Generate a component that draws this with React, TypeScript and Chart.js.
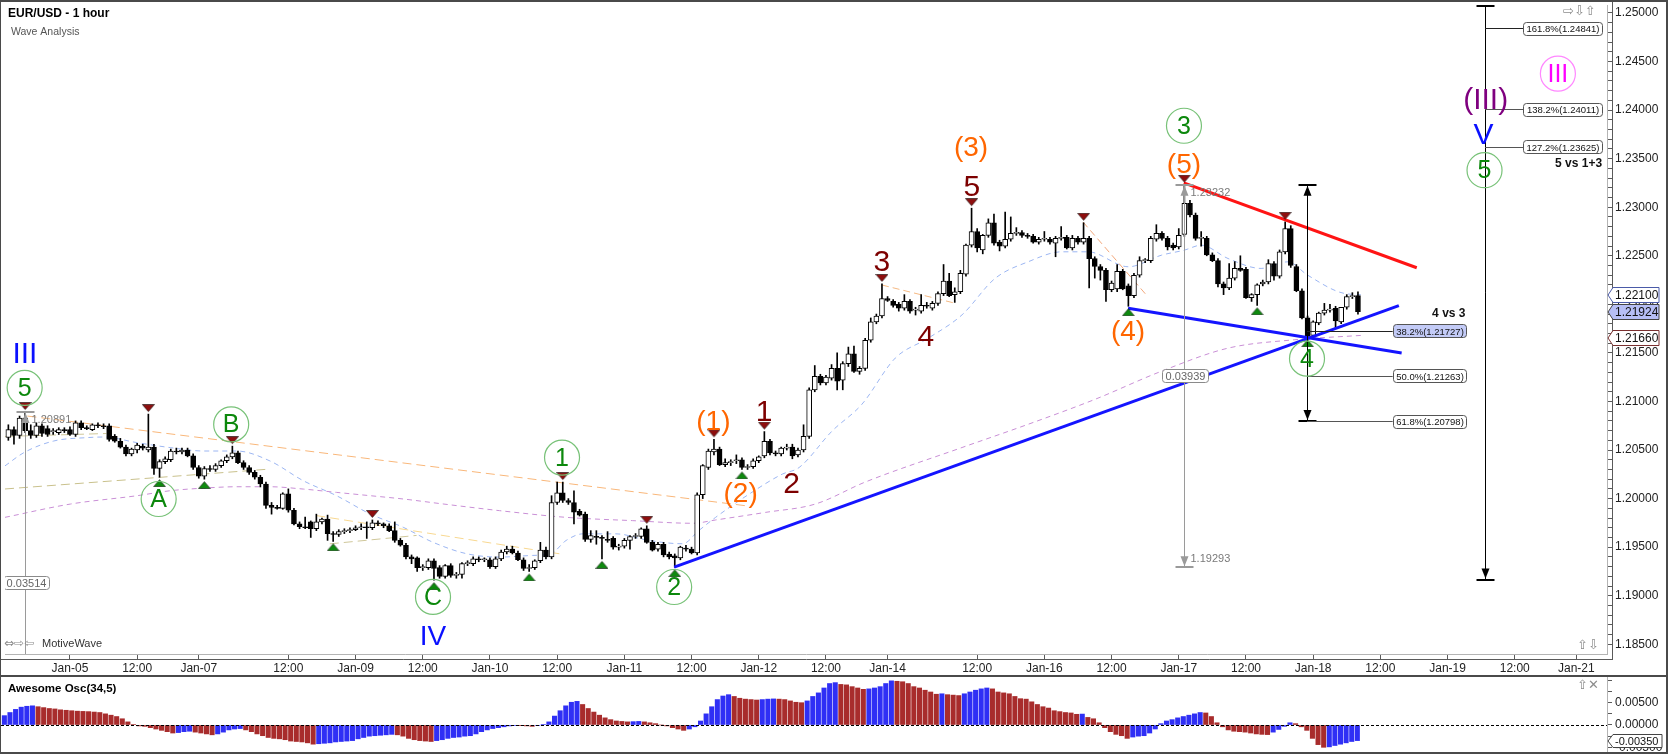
import React, { useEffect, useRef } from "react";
import { Chart, registerables } from "chart.js";

Chart.register(...registerables);

const FONT = "'Liberation Sans', Arial, Helvetica, sans-serif";
const SYMBOL_FONT = "'DejaVu Sans', sans-serif";

// ---- time axis: one slot per hourly candle, slot 0 = Jan-05 00:00 (weekends compressed)
const FIRST_SLOT = -11;
const X_MIN = -11.6;
const X_MAX = 274.47;
const xTickSlots = [0, 12, 23, 39, 51, 63, 75, 87, 99, 111, 123, 135, 146, 162, 174, 186, 198, 210, 222, 234, 246, 258, 269];
const xTickLabels = ["Jan-05", "12:00", "Jan-07", "12:00", "Jan-09", "12:00", "Jan-10", "12:00", "Jan-11", "12:00", "Jan-12", "12:00", "Jan-14", "12:00", "Jan-16", "12:00", "Jan-17", "12:00", "Jan-18", "12:00", "Jan-19", "12:00", "Jan-21"];

// ---- price axis
const PRICE_MIN = 1.184;
const PRICE_MAX = 1.25082;
const PRICE_TICK_FIRST = 1.185;
const PRICE_TICK_LAST = 1.25;
const PRICE_MINOR_STEP = 0.001;
const PRICE_LABEL_STEP = 0.005;

// ---- Awesome oscillator axis
const AO_MIN = -0.006054;
const AO_MAX = 0.010762;
const aoTickValues = [-0.005, -0.0025, 0, 0.0025, 0.005, 0.0075, 0.01];
const aoLabelTicks = [-0.005, 0, 0.005];

// ---- EUR/USD hourly candles, slots -11 .. 230
const opens = [
  1.2063, 1.2071, 1.2065, 1.2083, 1.2070, 1.2065, 1.2075, 1.2072, 1.2069, 1.2068,
  1.2071, 1.2071, 1.2066, 1.2078, 1.2073, 1.2071, 1.2076, 1.2075, 1.2075, 1.2064,
  1.2059, 1.2053, 1.2046, 1.2050, 1.2054, 1.2050, 1.2053, 1.2031, 1.2038, 1.2040,
  1.2049, 1.2048, 1.2050, 1.2044, 1.2032, 1.2023, 1.2031, 1.2030, 1.2034, 1.2039,
  1.2043, 1.2047, 1.2037, 1.2032, 1.2027, 1.2022, 1.2015, 1.1993, 1.1991, 1.1990,
  1.2005, 1.1988, 1.1974, 1.1971, 1.1976, 1.1969, 1.1976, 1.1979, 1.1964, 1.1963,
  1.1966, 1.1967, 1.1968, 1.1970, 1.1971, 1.1970, 1.1975, 1.1974, 1.1972, 1.1967,
  1.1957, 1.1952, 1.1940, 1.1939, 1.1929, 1.1929, 1.1936, 1.1929, 1.1920, 1.1931,
  1.1921, 1.1922, 1.1933, 1.1933, 1.1938, 1.1937, 1.1937, 1.1930, 1.1938, 1.1945,
  1.1948, 1.1944, 1.1937, 1.1928, 1.1929, 1.1936, 1.1947, 1.1940, 1.1996, 1.2006,
  1.1998, 1.1996, 1.1987, 1.1984, 1.1958, 1.1961, 1.1960, 1.1958, 1.1959, 1.1950,
  1.1951, 1.1957, 1.1961, 1.1961, 1.1969, 1.1955, 1.1948, 1.1953, 1.1943, 1.1941,
  1.1939, 1.1949, 1.1948, 1.1944, 1.2004, 1.2032, 1.2048, 1.2051, 1.2035, 1.2037,
  1.2039, 1.2040, 1.2032, 1.2033, 1.2039, 1.2044, 1.2059, 1.2047, 1.2046, 1.2052,
  1.2053, 1.2045, 1.2050, 1.2064, 1.2112, 1.2126, 1.2119, 1.2124, 1.2134, 1.2122,
  1.2139, 1.2149, 1.2131, 1.2134, 1.2163, 1.2182, 1.2188, 1.2206, 1.2203, 1.2200,
  1.2196, 1.2203, 1.2194, 1.2193, 1.2199, 1.2196, 1.2201, 1.2211, 1.2224, 1.2210,
  1.2213, 1.2231, 1.2261, 1.2275, 1.2256, 1.2271, 1.2284, 1.2264, 1.2260, 1.2267,
  1.2273, 1.2274, 1.2271, 1.2270, 1.2264, 1.2267, 1.2267, 1.2263, 1.2268, 1.2269,
  1.2258, 1.2268, 1.2264, 1.2268, 1.2247, 1.2239, 1.2235, 1.2215, 1.2216, 1.2234,
  1.2219, 1.2209, 1.2230, 1.2245, 1.2245, 1.2267, 1.2273, 1.2268, 1.2261, 1.2259,
  1.2272, 1.2304, 1.2292, 1.2268, 1.2268, 1.2251, 1.2245, 1.2221, 1.2217, 1.2227,
  1.2237, 1.2236, 1.2207, 1.2210, 1.2221, 1.2223, 1.2242, 1.2229, 1.2254, 1.2278,
  1.2239, 1.2214, 1.2186, 1.2168, 1.2181, 1.2191, 1.2194, 1.2196, 1.2182, 1.2197,
  1.2208, 1.2209,
];
const highs = [
  1.2076, 1.2074, 1.2085, 1.20891, 1.2076, 1.2078, 1.2077, 1.2075, 1.2072, 1.2073,
  1.2073, 1.2074, 1.2080, 1.2080, 1.2075, 1.2077, 1.2078, 1.2077, 1.2077, 1.2066,
  1.2062, 1.2055, 1.2052, 1.2057, 1.2056, 1.2087, 1.2056, 1.2040, 1.2043, 1.2051,
  1.2052, 1.2052, 1.2052, 1.2046, 1.2034, 1.2033, 1.2034, 1.2036, 1.2040, 1.2045,
  1.2054, 1.2049, 1.2039, 1.2034, 1.2029, 1.2024, 1.2017, 1.1996, 1.1993, 1.2006,
  1.2010, 1.1990, 1.1976, 1.1981, 1.1977, 1.1984, 1.1980, 1.1983, 1.1966, 1.1968,
  1.1969, 1.1970, 1.1972, 1.1974, 1.1976, 1.1978, 1.1977, 1.1975, 1.1974, 1.1976,
  1.1959, 1.1954, 1.1942, 1.1940, 1.1932, 1.1938, 1.1938, 1.1931, 1.1932, 1.1933,
  1.1924, 1.1934, 1.1936, 1.1940, 1.1940, 1.1939, 1.1939, 1.1940, 1.1947, 1.1951,
  1.1951, 1.1946, 1.1939, 1.1932, 1.1937, 1.1955, 1.1950, 1.2003, 1.2017, 1.2017,
  1.2000, 1.2008, 1.1989, 1.1986, 1.1967, 1.1967, 1.1962, 1.1966, 1.1961, 1.1953,
  1.1959, 1.1962, 1.1964, 1.1970, 1.1972, 1.1957, 1.1955, 1.1955, 1.1945, 1.1943,
  1.1951, 1.1952, 1.1950, 1.2006, 1.2035, 1.2051, 1.2061, 1.2053, 1.2041, 1.2040,
  1.2045, 1.2042, 1.2035, 1.2041, 1.2044, 1.2069, 1.2061, 1.2049, 1.2053, 1.2056,
  1.2056, 1.2052, 1.2076, 1.2114, 1.2137, 1.2128, 1.2127, 1.2138, 1.2150, 1.2141,
  1.2156, 1.2157, 1.2136, 1.2165, 1.2186, 1.2190, 1.2221, 1.2208, 1.2205, 1.2202,
  1.2210, 1.2205, 1.2197, 1.2210, 1.2202, 1.2203, 1.2213, 1.2241, 1.2232, 1.2217,
  1.2235, 1.2262, 1.2299, 1.2278, 1.2272, 1.2288, 1.2293, 1.2266, 1.2295, 1.2290,
  1.2279, 1.2276, 1.2273, 1.2272, 1.2269, 1.2275, 1.2269, 1.2270, 1.2280, 1.2271,
  1.2271, 1.2270, 1.2284, 1.2270, 1.2249, 1.2241, 1.2237, 1.2224, 1.2241, 1.2236,
  1.2221, 1.2232, 1.2249, 1.2247, 1.2270, 1.2282, 1.2275, 1.2270, 1.2263, 1.2278,
  1.23232, 1.2307, 1.2294, 1.2275, 1.2270, 1.2253, 1.2247, 1.2223, 1.2242, 1.2244,
  1.2250, 1.2238, 1.2211, 1.2221, 1.2225, 1.2246, 1.2244, 1.2256, 1.2285, 1.2281,
  1.2241, 1.2216, 1.2188, 1.2183, 1.2192, 1.2201, 1.2200, 1.2198, 1.2197, 1.2210,
  1.2212, 1.2213,
];
const lows = [
  1.2060, 1.2056, 1.2062, 1.2068, 1.2062, 1.2063, 1.2064, 1.2064, 1.2066, 1.2066,
  1.2068, 1.2065, 1.2064, 1.2071, 1.2071, 1.2070, 1.2073, 1.2072, 1.2059, 1.2058,
  1.2052, 1.2044, 1.2044, 1.2047, 1.2050, 1.2048, 1.2025, 1.2022, 1.2036, 1.2038,
  1.2046, 1.2046, 1.2043, 1.2030, 1.2021, 1.2020, 1.2028, 1.2028, 1.2032, 1.2037,
  1.2041, 1.2036, 1.2030, 1.2025, 1.2020, 1.2012, 1.1990, 1.1984, 1.1989, 1.1989,
  1.1986, 1.1973, 1.1969, 1.1969, 1.1960, 1.1967, 1.1974, 1.1957, 1.1956, 1.1961,
  1.1964, 1.1965, 1.1967, 1.1968, 1.1959, 1.1968, 1.1972, 1.1970, 1.1966, 1.1955,
  1.1951, 1.1938, 1.1933, 1.1925, 1.1926, 1.1927, 1.1916, 1.1918, 1.1918, 1.1919,
  1.1918, 1.1918, 1.1931, 1.1931, 1.1935, 1.1935, 1.1928, 1.1928, 1.1936, 1.1943,
  1.1943, 1.1936, 1.1926, 1.1925, 1.1927, 1.1934, 1.1938, 1.1938, 1.1994, 1.1996,
  1.1994, 1.1974, 1.1982, 1.1956, 1.1955, 1.1953, 1.1938, 1.1955, 1.1948, 1.1947,
  1.1949, 1.1948, 1.1959, 1.1959, 1.1954, 1.1946, 1.1946, 1.1940, 1.1938, 1.19293,
  1.1937, 1.1946, 1.1943, 1.1942, 1.2000, 1.2030, 1.2045, 1.2034, 1.2033, 1.2034,
  1.2036, 1.2030, 1.2030, 1.2031, 1.2037, 1.2042, 1.2045, 1.2044, 1.2044, 1.2050,
  1.2041, 1.2043, 1.2048, 1.2062, 1.2110, 1.2117, 1.2117, 1.2122, 1.2112, 1.2112,
  1.2136, 1.2130, 1.2128, 1.2132, 1.2161, 1.2180, 1.2186, 1.2203, 1.2197, 1.2193,
  1.2194, 1.2191, 1.2189, 1.2191, 1.2196, 1.2194, 1.2199, 1.2209, 1.2208, 1.2202,
  1.2211, 1.2229, 1.2259, 1.2254, 1.2252, 1.2269, 1.2261, 1.2255, 1.2258, 1.2265,
  1.2271, 1.2269, 1.2268, 1.2263, 1.2262, 1.2265, 1.2262, 1.2249, 1.2266, 1.2257,
  1.2256, 1.2262, 1.2262, 1.2217, 1.2227, 1.2225, 1.2203, 1.2213, 1.2213, 1.2215,
  1.2198, 1.2207, 1.2228, 1.2243, 1.2243, 1.2265, 1.2266, 1.2256, 1.2256, 1.2257,
  1.2270, 1.2290, 1.2266, 1.2260, 1.2250, 1.2244, 1.2218, 1.2210, 1.2215, 1.2225,
  1.2234, 1.2206, 1.2203, 1.2199, 1.2219, 1.2221, 1.2225, 1.2227, 1.2252, 1.2238,
  1.2213, 1.2185, 1.2166, 1.2167, 1.2179, 1.2189, 1.2192, 1.2176, 1.2180, 1.2195,
  1.2206, 1.2190,
];
const closes = [
  1.2071, 1.2065, 1.2083, 1.2070, 1.2065, 1.2075, 1.2067, 1.2066, 1.2070, 1.2071,
  1.2070, 1.2066, 1.2078, 1.2073, 1.2072, 1.2076, 1.2075, 1.2074, 1.2061, 1.2059,
  1.2053, 1.2046, 1.2051, 1.2055, 1.2052, 1.2053, 1.2031, 1.2038, 1.2041, 1.2049,
  1.2048, 1.2050, 1.2044, 1.2032, 1.2023, 1.2031, 1.2030, 1.2034, 1.2039, 1.2043,
  1.2047, 1.2037, 1.2032, 1.2027, 1.2022, 1.2015, 1.1993, 1.1991, 1.1990, 1.2005,
  1.1988, 1.1974, 1.1971, 1.1970, 1.1969, 1.1976, 1.1979, 1.1964, 1.1963, 1.1966,
  1.1967, 1.1968, 1.1970, 1.1971, 1.1970, 1.1975, 1.1974, 1.1972, 1.1967, 1.1957,
  1.1952, 1.1940, 1.1938, 1.1929, 1.1930, 1.1936, 1.1928, 1.1920, 1.1931, 1.1921,
  1.1922, 1.1933, 1.1934, 1.1938, 1.1937, 1.1938, 1.1930, 1.1938, 1.1945, 1.1948,
  1.1944, 1.1937, 1.1928, 1.1929, 1.1936, 1.1947, 1.1940, 1.1996, 1.2006, 1.1998,
  1.1996, 1.1986, 1.1983, 1.1958, 1.1962, 1.1960, 1.1959, 1.1957, 1.1950, 1.1951,
  1.1957, 1.1961, 1.1962, 1.1969, 1.1955, 1.1947, 1.1953, 1.1942, 1.1940, 1.1939,
  1.1950, 1.1948, 1.1944, 1.2004, 1.2034, 1.2049, 1.2051, 1.2035, 1.2037, 1.2038,
  1.2040, 1.2032, 1.2033, 1.2039, 1.2043, 1.2059, 1.2047, 1.2046, 1.2052, 1.2053,
  1.2044, 1.2050, 1.2064, 1.2112, 1.2126, 1.2119, 1.2125, 1.2134, 1.2121, 1.2139,
  1.2149, 1.2131, 1.2134, 1.2163, 1.2182, 1.2188, 1.2206, 1.2204, 1.2199, 1.2196,
  1.2203, 1.2193, 1.2195, 1.2199, 1.2198, 1.2201, 1.2211, 1.2224, 1.2209, 1.2213,
  1.2232, 1.2261, 1.2275, 1.2258, 1.2271, 1.2284, 1.2263, 1.2260, 1.2267, 1.2273,
  1.2274, 1.2271, 1.2270, 1.2264, 1.2267, 1.2268, 1.2264, 1.2268, 1.2269, 1.2258,
  1.2268, 1.2264, 1.2268, 1.2247, 1.2239, 1.2235, 1.2215, 1.2222, 1.2234, 1.2216,
  1.2209, 1.2230, 1.2245, 1.2246, 1.2268, 1.2273, 1.2268, 1.2259, 1.2258, 1.2271,
  1.2304, 1.2292, 1.2268, 1.2269, 1.2251, 1.2245, 1.2221, 1.2217, 1.2227, 1.2237,
  1.2235, 1.2207, 1.2210, 1.2220, 1.2223, 1.2242, 1.2229, 1.2254, 1.2278, 1.2240,
  1.2214, 1.2186, 1.2167, 1.2182, 1.2191, 1.2194, 1.2195, 1.2183, 1.2197, 1.2208,
  1.2209, 1.21924,
];

// ---- Awesome Oscillator (34,5), one value per candle
const aoValues = [
  0.0021, 0.0028, 0.0035, 0.0040, 0.0042, 0.0043, 0.0041, 0.0039, 0.0037, 0.0036,
  0.0034, 0.0033, 0.0032, 0.0031, 0.00305, 0.0030, 0.0029, 0.0028, 0.0025, 0.0022,
  0.0019, 0.0014, 0.0007, 0.0001, -0.0002, -0.0003, -0.0006, -0.0009, -0.0012, -0.0015,
  -0.0018, -0.0017, -0.0015, -0.0014, -0.0016, -0.0018, -0.0020, -0.0022, -0.0020, -0.0016,
  -0.0011, -0.0009, -0.0008, -0.0011, -0.0015, -0.0020, -0.0024, -0.0028, -0.0030, -0.0031,
  -0.0033, -0.0036, -0.0037, -0.0038, -0.0040, -0.0043, -0.0042, -0.0041, -0.0040, -0.0038,
  -0.0037, -0.0036, -0.0035, -0.0031, -0.0028, -0.0025, -0.0024, -0.0023, -0.0022, -0.0021,
  -0.0022, -0.0025, -0.0030, -0.0033, -0.0035, -0.0036, -0.0037, -0.0035, -0.0033, -0.0030,
  -0.0028, -0.0027, -0.0025, -0.0024, -0.0020, -0.0015, -0.0011, -0.0008, -0.0006, -0.0004,
  -0.0002, -0.0001, -0.00015, -0.0002, -0.0003, -0.0001, 0.0001, 0.0007, 0.0020, 0.0032,
  0.0043, 0.0051, 0.0053, 0.0046, 0.0037, 0.0029, 0.0022, 0.0016, 0.0012, 0.0009,
  0.0008, 0.0007, 0.00075, 0.0008, 0.0007, 0.0005, 0.0003, 0.0000, -0.0002, -0.0006,
  -0.0009, -0.0012, -0.0009, -0.0004, 0.0009, 0.0025, 0.0041, 0.0057, 0.0065, 0.0068,
  0.0064, 0.0060, 0.0058, 0.0057, 0.0056, 0.0057, 0.0058, 0.00585, 0.0058, 0.0057,
  0.0054, 0.0051, 0.0050, 0.0054, 0.0064, 0.0072, 0.0083, 0.0093, 0.0095, 0.0091,
  0.0090, 0.0086, 0.0083, 0.0080, 0.0081, 0.0083, 0.0086, 0.0093, 0.0099, 0.0098,
  0.0097, 0.0093, 0.0086, 0.0083, 0.0078, 0.0074, 0.0069, 0.0070, 0.0068, 0.0067,
  0.0066, 0.0070, 0.0074, 0.0078, 0.0081, 0.0083, 0.0081, 0.0074, 0.0072, 0.0070,
  0.0064, 0.0059, 0.0058, 0.0052, 0.0046, 0.0041, 0.0038, 0.0032, 0.0030, 0.0028,
  0.0027, 0.0024, 0.00245, 0.0017, 0.0014, 0.0005, -0.0006, -0.0015, -0.0021, -0.0024,
  -0.0030, -0.0027, -0.0025, -0.0024, -0.0018, -0.0009, 0.0003, 0.0009, 0.0012, 0.0016,
  0.0019, 0.0022, 0.0025, 0.0028, 0.0027, 0.0019, 0.0005, -0.0004, -0.0011, -0.0014,
  -0.0015, -0.0016, -0.0018, -0.0020, -0.0021, -0.00215, -0.0016, -0.0010, -0.0003, 0.0005,
  0.0003, -0.0004, -0.0012, -0.0030, -0.0044, -0.0050, -0.0049, -0.0046, -0.0043, -0.0040,
  -0.0037, -0.0035,
];

// ---- moving averages and channel lines: [slot, price]
const maFastPoints: [number, number][] = [
  [-11.6, 1.20337], [-8.2, 1.20474], [-2.9, 1.20593], [3.1, 1.20628], [6, 1.20634], [12, 1.20576],
  [17.9, 1.20525], [23.9, 1.2049], [29.8, 1.2049], [35.7, 1.20388], [41.7, 1.20183], [47.6, 1.2003],
  [53.6, 1.19842], [59.5, 1.19705], [64.8, 1.19551], [70.8, 1.19433], [76.7, 1.19398], [82.6, 1.19415],
  [85.9, 1.19433], [88.6, 1.19569], [91.6, 1.19637], [97.5, 1.19637], [103.4, 1.19569], [109.4, 1.19535],
  [112.3, 1.19671], [115.3, 1.19807], [121.3, 1.20047], [127.2, 1.20252], [130.2, 1.2032], [136.1, 1.20696],
  [141.4, 1.2097], [147.4, 1.21448], [153.3, 1.21653], [159.3, 1.21892], [165.2, 1.22267], [171.1, 1.22438],
  [177.1, 1.22541], [181.8, 1.22541], [189, 1.22387], [194.9, 1.22506], [199, 1.22558], [202, 1.22609],
  [206.8, 1.22472], [212.7, 1.2237], [217.5, 1.22438], [221, 1.22301], [227.5, 1.22113], [230.5, 1.221],
];
const maSlowPoints: [number, number][] = [
  [-11.6, 1.19807], [0.1, 1.19944], [12, 1.2003], [17.9, 1.20081], [23.9, 1.20108], [29.8, 1.20122],
  [35.7, 1.20122], [41.7, 1.20098], [47.6, 1.20064], [53.6, 1.2003], [59.5, 1.19996], [66.6, 1.19945],
  [76.7, 1.19876], [88.6, 1.19807], [100.5, 1.19773], [111.2, 1.19746], [115.3, 1.1978], [124.2, 1.19858],
  [133.1, 1.19944], [142, 1.2017], [159.3, 1.20526], [171.1, 1.20765], [183, 1.21021], [194.9, 1.21311],
  [206.8, 1.21549], [218.6, 1.21635], [230.5, 1.2168],
];
const channelOrangeLong: [number, number][] = [[-7.6, 1.2085], [120.6, 1.19927]];
const channelYellow: [number, number][] = [[44.0, 1.19825], [87.4, 1.19432]];
const channelOliveUpper: [number, number][] = [[-11.6, 1.2064], [6.5, 1.2067]];
const channelOliveLower: [number, number][] = [[-11.6, 1.20099], [35.7, 1.20304]];
const channelOliveShort: [number, number][] = [[46.4, 1.19534], [61.9, 1.19621]];
const channelOrange34: [number, number][] = [[145, 1.22199], [158.1, 1.22011]];
const channelOrange5: [number, number][] = [[180.9, 1.22848], [192.2, 1.22097]];

// ---- wave trend lines
const trendBlueUp: [number, number][] = [[107.9, 1.19295], [237.3, 1.21987]];
const trendBlueDown: [number, number][] = [[188.95, 1.21959], [237.8, 1.21498]];
const trendRed: [number, number][] = [[198.9, 1.23251], [240.5, 1.22377]];

// ---- swing markers (slots)
const swingHighSlots = [-8, 14, 29, 54, 88, 103, 115, 124, 145, 161, 181, 199, 217];
const swingLowSlots = [16, 24, 47, 65, 82, 95, 108, 120, 189, 212, 221];

// ---- measuring tools and fibonacci levels
const measureTools = [
  { slot: -8.09, top: 1.20891, bottom: 1.17377, color: "#9a9a9a", topArrow: true, bottomArrow: true, topText: "1.20891", bottomText: "", spanText: "0.03514" },
  { slot: 198.93, top: 1.23232, bottom: 1.19293, color: "#9a9a9a", topArrow: true, bottomArrow: true, topText: "1.23232", bottomText: "1.19293", spanText: "0.03939" },
  { slot: 220.9, top: 1.23232, bottom: 1.20798, color: "#000000", topArrow: true, bottomArrow: true, topText: "", bottomText: "", spanText: "" },
  { slot: 252.7, top: 1.2507, bottom: 1.19166, color: "#000000", topArrow: false, bottomArrow: true, topText: "", bottomText: "", spanText: "" },
];
const retraceLevels = [1.21727, 1.21263, 1.20798];
const retraceLabels = ["38.2%(1.21727)", "50.0%(1.21263)", "61.8%(1.20798)"];
const extensionLevels = [1.24841, 1.24011, 1.23625];
const extensionLabels = ["161.8%(1.24841)", "138.2%(1.24011)", "127.2%(1.23625)"];

// ---- wave labels
const BLUE_W = "#0a10ff";
const GREEN_W = "#0c880c";
const GREEN_RING = "#78c278";
const ORANGE_W = "#ff6600";
const MAROON_W = "#7d0000";
const PURPLE_W = "#7f007f";
const MAGENTA_W = "#ff00ff";
const MAGENTA_RING = "#ff88ff";
const waveLabels = [
  { text: "III", slot: -8.05, price: 1.21492, color: BLUE_W, size: 30, ring: "" },
  { text: "5", slot: -8.09, price: 1.2114, color: GREEN_W, size: 25, ring: GREEN_RING },
  { text: "A", slot: 15.84, price: 1.19996, color: GREEN_W, size: 25, ring: GREEN_RING },
  { text: "B", slot: 28.79, price: 1.20764, color: GREEN_W, size: 25, ring: GREEN_RING },
  { text: "C", slot: 64.83, price: 1.18988, color: GREEN_W, size: 25, ring: GREEN_RING },
  { text: "IV", slot: 64.83, price: 1.18578, color: BLUE_W, size: 28, ring: "" },
  { text: "1", slot: 87.87, price: 1.20422, color: GREEN_W, size: 25, ring: GREEN_RING },
  { text: "2", slot: 107.89, price: 1.1909, color: GREEN_W, size: 25, ring: GREEN_RING },
  { text: "(1)", slot: 114.89, price: 1.20798, color: ORANGE_W, size: 28, ring: "" },
  { text: "1", slot: 123.93, price: 1.20899, color: MAROON_W, size: 30, ring: "" },
  { text: "(2)", slot: 119.76, price: 1.20053, color: ORANGE_W, size: 28, ring: "" },
  { text: "2", slot: 128.84, price: 1.20156, color: MAROON_W, size: 30, ring: "" },
  { text: "3", slot: 145.0, price: 1.22438, color: MAROON_W, size: 30, ring: "" },
  { text: "4", slot: 152.84, price: 1.21669, color: MAROON_W, size: 30, ring: "" },
  { text: "5", slot: 161.04, price: 1.23207, color: MAROON_W, size: 30, ring: "" },
  { text: "(3)", slot: 160.91, price: 1.23617, color: ORANGE_W, size: 28, ring: "" },
  { text: "(4)", slot: 188.95, price: 1.21721, color: ORANGE_W, size: 28, ring: "" },
  { text: "(5)", slot: 198.93, price: 1.23445, color: ORANGE_W, size: 28, ring: "" },
  { text: "3", slot: 198.93, price: 1.23839, color: GREEN_W, size: 25, ring: GREEN_RING },
  { text: "4", slot: 220.9, price: 1.21441, color: GREEN_W, size: 25, ring: GREEN_RING },
  { text: "(III)", slot: 252.8, price: 1.24108, color: PURPLE_W, size: 30, ring: "" },
  { text: "V", slot: 252.4, price: 1.2375, color: BLUE_W, size: 30, ring: "" },
  { text: "5", slot: 252.6, price: 1.23381, color: GREEN_W, size: 25, ring: GREEN_RING },
  { text: "III", slot: 265.7, price: 1.24375, color: MAGENTA_W, size: 25, ring: MAGENTA_RING },
];

// ---- helpers
const toXY = (pts: [number, number][]) => pts.map(([x, y]) => ({ x, y }));

function strokeLine(ctx: CanvasRenderingContext2D, x1: number, y1: number, x2: number, y2: number) {
  ctx.beginPath();
  ctx.moveTo(x1, y1);
  ctx.lineTo(x2, y2);
  ctx.stroke();
}

function arrowHead(ctx: CanvasRenderingContext2D, x: number, yTip: number, dir: number, color: string) {
  ctx.fillStyle = color;
  ctx.beginPath();
  ctx.moveTo(x, yTip);
  ctx.lineTo(x - 4, yTip - dir * 10);
  ctx.lineTo(x + 4, yTip - dir * 10);
  ctx.closePath();
  ctx.fill();
}

function labelBox(ctx: CanvasRenderingContext2D, x: number, yMid: number, w: number, h: number, text: string, fill: string, stroke: string, textColor: string, font: string) {
  ctx.beginPath();
  ctx.roundRect(Math.round(x) + 0.5, Math.round(yMid - h / 2) + 0.5, w, h, 3);
  ctx.fillStyle = fill;
  ctx.fill();
  ctx.lineWidth = 1;
  ctx.strokeStyle = stroke;
  ctx.stroke();
  ctx.fillStyle = textColor;
  ctx.font = font;
  ctx.textAlign = "center";
  ctx.textBaseline = "middle";
  ctx.fillText(text, Math.round(x) + 0.5 + w / 2, Math.round(yMid) + 1);
}

function axisTag(ctx: CanvasRenderingContext2D, xAxis: number, y: number, text: string, fill: string, stroke: string, h: number, font: string, w: number) {
  const x0 = xAxis + 1;
  const x1 = xAxis + 6;
  const x2 = xAxis + w;
  const yt = Math.round(y - h / 2) + 0.5;
  const yb = yt + h;
  ctx.beginPath();
  ctx.moveTo(x0, (yt + yb) / 2);
  ctx.lineTo(x1, yt);
  ctx.lineTo(x2, yt);
  ctx.lineTo(x2, yb);
  ctx.lineTo(x1, yb);
  ctx.closePath();
  ctx.fillStyle = fill;
  ctx.fill();
  ctx.strokeStyle = stroke;
  ctx.lineWidth = 1;
  ctx.stroke();
  ctx.fillStyle = "#111";
  ctx.font = font;
  ctx.textAlign = "left";
  ctx.textBaseline = "middle";
  ctx.fillText(text, x1 + 2, (yt + yb) / 2 + 0.5);
}

function makeTriangle(color: string, down: boolean) {
  const c = document.createElement("canvas");
  c.width = 13;
  c.height = 20;
  const g = c.getContext("2d")!;
  g.fillStyle = color;
  g.strokeStyle = "rgba(0,0,0,0.55)";
  g.lineWidth = 1;
  g.beginPath();
  if (down) {
    g.moveTo(0.5, 0.5);
    g.lineTo(12.5, 0.5);
    g.lineTo(6.5, 7.5);
  } else {
    g.moveTo(0.5, 19.5);
    g.lineTo(12.5, 19.5);
    g.lineTo(6.5, 12.5);
  }
  g.closePath();
  g.fill();
  g.stroke();
  return c;
}

const isPriceLabel = (v: number) => Math.abs(v / PRICE_LABEL_STEP - Math.round(v / PRICE_LABEL_STEP)) < 1e-6;

const mainAnnotations = {
  id: "mainAnnotations",
  afterDatasetsDraw(chart: any) {
    const ctx: CanvasRenderingContext2D = chart.ctx;
    const a = chart.chartArea;
    const xs = chart.scales.x;
    const ys = chart.scales.y;
    const X = (s: number) => xs.getPixelForValue(s);
    const Y = (p: number) => ys.getPixelForValue(p);
    ctx.save();
    ctx.beginPath();
    ctx.rect(a.left, a.top, a.right - a.left, a.bottom - a.top);
    ctx.clip();

    // measuring tools
    for (const m of measureTools) {
      const x = Math.round(X(m.slot)) + 0.5;
      const yt = Y(m.top);
      const yb = Y(m.bottom);
      ctx.strokeStyle = m.color;
      ctx.lineWidth = 1;
      strokeLine(ctx, x, yt, x, yb);
      ctx.lineWidth = 2;
      strokeLine(ctx, x - 9, Math.round(yt), x + 9, Math.round(yt));
      strokeLine(ctx, x - 9, Math.round(yb), x + 9, Math.round(yb));
      if (m.topArrow) arrowHead(ctx, x, yt + 1, -1, m.color);
      if (m.bottomArrow) arrowHead(ctx, x, yb - 1, 1, m.color);
      ctx.fillStyle = "#7a7a7a";
      ctx.font = `11px ${FONT}`;
      ctx.textAlign = "left";
      ctx.textBaseline = "middle";
      if (m.topText) ctx.fillText(m.topText, x + 6, yt + 8);
      if (m.bottomText) ctx.fillText(m.bottomText, x + 6, yb - 8);
      if (m.spanText) {
        ctx.font = `11px ${FONT}`;
        const w = Math.ceil(ctx.measureText(m.spanText).width) + 6;
        labelBox(ctx, x - w / 2, (yt + yb) / 2, w, 13, m.spanText, "#ffffff", "#8a8a8a", "#666", `11px ${FONT}`);
      }
    }

    // fibonacci retracement of wave ((3))
    ctx.strokeStyle = "#222";
    ctx.lineWidth = 1;
    retraceLevels.forEach((lv, i) => {
      const y = Math.round(Y(lv)) + 0.5;
      const bx = X(236.2);
      strokeLine(ctx, X(220.9), y, bx, y);
      labelBox(ctx, bx, Y(lv), 73, 13, retraceLabels[i], i === 0 ? "#c3cbf7" : "#ffffff", "#555", "#111", `9.5px ${FONT}`);
    });
    // fibonacci extension
    ctx.strokeStyle = "#222";
    extensionLevels.forEach((lv, i) => {
      const y = Math.round(Y(lv)) + 0.5;
      const bx = X(259.5);
      strokeLine(ctx, X(252.7), y, bx, y);
      labelBox(ctx, bx, Y(lv), 79, 13, extensionLabels[i], "#ffffff", "#555", "#111", `9.5px ${FONT}`);
    });
    ctx.fillStyle = "#111";
    ctx.font = `bold 12px ${FONT}`;
    ctx.textAlign = "right";
    ctx.textBaseline = "middle";
    ctx.fillText("4 vs 3", X(249.2), Y(1.21905));
    ctx.fillText("5 vs 1+3", X(273.6), Y(1.23453));

    // wave labels
    for (const w of waveLabels) {
      const x = X(w.slot);
      const y = Y(w.price);
      if (w.ring) {
        ctx.beginPath();
        ctx.arc(x, y, 17.5, 0, Math.PI * 2);
        ctx.strokeStyle = w.ring;
        ctx.lineWidth = 1.2;
        ctx.stroke();
      }
      ctx.fillStyle = w.color;
      ctx.font = `${w.size}px ${FONT}`;
      ctx.textAlign = "center";
      ctx.textBaseline = "middle";
      ctx.fillText(w.text, x, y + 1);
    }
    ctx.restore();
  },
  afterDraw(chart: any) {
    const ctx: CanvasRenderingContext2D = chart.ctx;
    const a = chart.chartArea;
    const ys = chart.scales.y;
    ctx.save();
    // outer axis lines
    ctx.strokeStyle = "#5a5a5a";
    ctx.lineWidth = 1;
    strokeLine(ctx, a.right + 5.5, 0, a.right + 5.5, a.bottom + 6);
    strokeLine(ctx, 0, a.bottom + 5.5, a.right + 6, a.bottom + 5.5);
    // current value tags
    axisTag(ctx, a.right, ys.getPixelForValue(1.221), "1.22100", "#ffffff", "#4a5aa8", 15, `12px ${FONT}`, 52);
    axisTag(ctx, a.right, ys.getPixelForValue(1.21924), "1.21924", "#b6bef5", "#444", 15, `12px ${FONT}`, 52);
    axisTag(ctx, a.right, ys.getPixelForValue(1.2166), "1.21660", "#ffffff", "#7a3030", 15, `12px ${FONT}`, 52);
    // title
    ctx.textAlign = "left";
    ctx.textBaseline = "middle";
    ctx.fillStyle = "#000";
    ctx.font = `bold 12px ${FONT}`;
    ctx.fillText("EUR/USD - 1 hour", 8, 14);
    ctx.fillStyle = "#555";
    ctx.font = `10.5px ${FONT}`;
    ctx.fillText("Wave Analysis", 11, 32);
    // icons and brand
    ctx.fillStyle = "#8c8c8c";
    ctx.font = `13px ${SYMBOL_FONT}`;
    ctx.fillText("\u21E8\u21E9\u21E7", 1563, 12);
    ctx.fillText("\u21E7\u21E9", 1577, 646);
    ctx.font = `12px ${SYMBOL_FONT}`;
    ctx.fillText("\u21D4\u21E8\u21E6", 4, 644);
    ctx.fillStyle = "#333";
    ctx.font = `11px ${FONT}`;
    ctx.fillText("MotiveWave", 42, 644);
    // frame
    ctx.fillStyle = "#4a4a4a";
    ctx.fillRect(0, 0, 1668, 2);
    ctx.fillRect(0, 0, 1, 677);
    ctx.fillRect(1666, 0, 2, 677);
    ctx.fillRect(0, 675, 1668, 2);
    ctx.restore();
  },
};

const aoAnnotations = {
  id: "aoAnnotations",
  afterDatasetsDraw(chart: any) {
    const ctx: CanvasRenderingContext2D = chart.ctx;
    const a = chart.chartArea;
    const y0 = Math.round(chart.scales.y.getPixelForValue(0)) + 0.5;
    ctx.save();
    ctx.strokeStyle = "#000";
    ctx.lineWidth = 1;
    ctx.setLineDash([3, 2]);
    strokeLine(ctx, a.left, y0, a.right, y0);
    ctx.restore();
  },
  afterDraw(chart: any) {
    const ctx: CanvasRenderingContext2D = chart.ctx;
    const a = chart.chartArea;
    const ys = chart.scales.y;
    ctx.save();
    ctx.textAlign = "left";
    ctx.textBaseline = "middle";
    ctx.fillStyle = "#000";
    ctx.font = `bold 11.5px ${FONT}`;
    ctx.fillText("Awesome Osc(34,5)", 8, 12);
    ctx.fillStyle = "#8c8c8c";
    ctx.font = `13px ${SYMBOL_FONT}`;
    ctx.fillText("\u21E7\u2715", 1577, 9);
    axisTag(ctx, a.right, ys.getPixelForValue(-0.0035), "-0.00350", "#ffffff", "#444", 13, `11px ${FONT}`, 55);
    ctx.fillStyle = "#4a4a4a";
    ctx.fillRect(0, 75, 1668, 2);
    ctx.fillRect(0, 0, 1, 77);
    ctx.fillRect(1666, 0, 2, 77);
    ctx.restore();
  },
};

function buildMainConfig(triDown: HTMLCanvasElement, triUp: HTMLCanvasElement): any {
  const slots = opens.map((_, i) => FIRST_SLOT + i);
  const wickData = slots.map((s, i) => ({ x: s, y: [lows[i], highs[i]] }));
  const bodyData = slots.map((s, i) => ({ x: s, y: [opens[i], closes[i]] }));
  const bodyFill = opens.map((o, i) => (closes[i] >= o ? "#ffffff" : "#000000"));
  const priceTicks: number[] = [];
  for (let v = PRICE_TICK_FIRST; v <= PRICE_TICK_LAST + 1e-9; v += PRICE_MINOR_STEP) priceTicks.push(+v.toFixed(3));

  const dashed = (pts: [number, number][], color: string, dash: number[], order: number, smooth = false) => ({
    type: "line",
    data: toXY(pts),
    borderColor: color,
    borderWidth: 1,
    borderDash: dash,
    pointRadius: 0,
    fill: false,
    tension: 0,
    cubicInterpolationMode: smooth ? "monotone" : "default",
    order,
  });
  const solid = (pts: [number, number][], color: string) => ({
    type: "line",
    data: toXY(pts),
    borderColor: color,
    borderWidth: 3,
    pointRadius: 0,
    fill: false,
    tension: 0,
    order: 20,
  });

  return {
    type: "bar",
    data: {
      datasets: [
        dashed(maSlowPoints, "#c98fd6", [5, 4], 50, true),
        dashed(maFastPoints, "#9cb6f2", [5, 4], 49, true),
        dashed(channelOrangeLong, "#f9b77a", [9, 5], 48),
        dashed(channelYellow, "#f8d890", [9, 5], 48),
        dashed(channelOliveUpper, "#cfc79a", [9, 5], 48),
        dashed(channelOliveLower, "#c9c18c", [9, 5], 48),
        dashed(channelOliveShort, "#cfc79a", [9, 5], 48),
        dashed(channelOrange34, "#f5b983", [7, 4], 48),
        dashed(channelOrange5, "#f2a77a", [7, 4], 48),
        {
          type: "bar",
          data: wickData,
          backgroundColor: "#000000",
          borderWidth: 0,
          barThickness: 1,
          grouped: false,
          order: 30,
        },
        {
          type: "bar",
          data: bodyData,
          backgroundColor: bodyFill,
          borderColor: "#000000",
          borderWidth: 1,
          borderSkipped: false,
          barThickness: 5,
          minBarLength: 1,
          grouped: false,
          order: 29,
        },
        solid(trendBlueUp, "#1414ff"),
        solid(trendBlueDown, "#1414ff"),
        solid(trendRed, "#ff1414"),
        {
          type: "line",
          showLine: false,
          data: swingHighSlots.map((s) => ({ x: s, y: highs[s - FIRST_SLOT] })),
          pointStyle: triDown,
          pointRadius: 3,
          order: 10,
        },
        {
          type: "line",
          showLine: false,
          data: swingLowSlots.map((s) => ({ x: s, y: lows[s - FIRST_SLOT] })),
          pointStyle: triUp,
          pointRadius: 3,
          order: 10,
        },
      ],
    },
    options: {
      animation: false,
      responsive: false,
      devicePixelRatio: 1,
      events: [],
      layout: { padding: { left: 1, top: 2, right: 0, bottom: 0 } },
      plugins: { legend: { display: false }, tooltip: { enabled: false } },
      scales: {
        x: {
          type: "linear",
          min: X_MIN,
          max: X_MAX,
          offset: false,
          grid: { drawOnChartArea: false, drawTicks: true, tickLength: 5, color: "#5a5a5a", offset: false },
          border: { display: true, color: "#b4b4b4" },
          ticks: {
            autoSkip: false,
            maxRotation: 0,
            padding: 2,
            color: "#222",
            font: { family: FONT, size: 12 },
            callback: (_v: any, i: number) => xTickLabels[i] ?? "",
          },
          afterBuildTicks: (sc: any) => {
            sc.ticks = xTickSlots.map((v) => ({ value: v }));
          },
          afterFit: (sc: any) => {
            sc.height = 23;
            sc.paddingLeft = 0;
            sc.paddingRight = 0;
          },
        },
        y: {
          type: "linear",
          position: "right",
          min: PRICE_MIN,
          max: PRICE_MAX,
          grid: { drawOnChartArea: false, drawTicks: true, tickLength: 5, color: "#5a5a5a" },
          border: { display: true, color: "#b4b4b4" },
          ticks: {
            autoSkip: false,
            padding: 3,
            color: "#222",
            font: { family: FONT, size: 12 },
            callback: (v: any) => (isPriceLabel(Number(v)) ? Number(v).toFixed(5) : ""),
          },
          afterBuildTicks: (sc: any) => {
            sc.ticks = priceTicks.map((v) => ({ value: v }));
          },
          afterFit: (sc: any) => {
            sc.width = 61;
            sc.paddingTop = 0;
            sc.paddingBottom = 0;
          },
        },
      },
    },
    plugins: [mainAnnotations],
  };
}

function buildAoConfig(): any {
  const slots = aoValues.map((_, i) => FIRST_SLOT + i);
  const colors = aoValues.map((v, i) => (i === 0 || v > aoValues[i - 1] ? "#2f2ff5" : "#a82c2c"));
  return {
    type: "bar",
    data: {
      datasets: [
        {
          data: slots.map((s, i) => ({ x: s, y: aoValues[i] })),
          backgroundColor: colors,
          borderWidth: 0,
          barThickness: 4.4,
          grouped: false,
        },
      ],
    },
    options: {
      animation: false,
      responsive: false,
      devicePixelRatio: 1,
      events: [],
      layout: { padding: { left: 1, top: 0, right: 0, bottom: 2 } },
      plugins: { legend: { display: false }, tooltip: { enabled: false } },
      scales: {
        x: { type: "linear", min: X_MIN, max: X_MAX, offset: false, display: false, grid: { offset: false } },
        y: {
          type: "linear",
          position: "right",
          min: AO_MIN,
          max: AO_MAX,
          grid: { drawOnChartArea: false, drawTicks: true, tickLength: 5, color: "#5a5a5a" },
          border: { display: true, color: "#b4b4b4" },
          ticks: {
            autoSkip: false,
            padding: 3,
            color: "#222",
            font: { family: FONT, size: 12 },
            callback: (v: any) => (aoLabelTicks.some((t) => Math.abs(t - Number(v)) < 1e-9) ? Number(v).toFixed(5) : ""),
          },
          afterBuildTicks: (sc: any) => {
            sc.ticks = aoTickValues.map((v) => ({ value: v }));
          },
          afterFit: (sc: any) => {
            sc.width = 61;
            sc.paddingTop = 0;
            sc.paddingBottom = 0;
          },
        },
      },
    },
    plugins: [aoAnnotations],
  };
}

export default function App() {
  const mainRef = useRef<HTMLCanvasElement>(null);
  const aoRef = useRef<HTMLCanvasElement>(null);

  useEffect(() => {
    const triDown = makeTriangle("#8e0e0e", true);
    const triUp = makeTriangle("#0e8a0e", false);
    const main = new Chart(mainRef.current as HTMLCanvasElement, buildMainConfig(triDown, triUp));
    const ao = new Chart(aoRef.current as HTMLCanvasElement, buildAoConfig());
    return () => {
      main.destroy();
      ao.destroy();
    };
  }, []);

  return (
    <div style={{ position: "fixed", left: 0, top: 0, width: 1668, height: 754, background: "#ffffff", overflow: "hidden" }}>
      <canvas ref={mainRef} width={1668} height={677} style={{ position: "absolute", left: 0, top: 0, width: 1668, height: 677 }} />
      <canvas ref={aoRef} width={1668} height={77} style={{ position: "absolute", left: 0, top: 677, width: 1668, height: 77 }} />
    </div>
  );
}
